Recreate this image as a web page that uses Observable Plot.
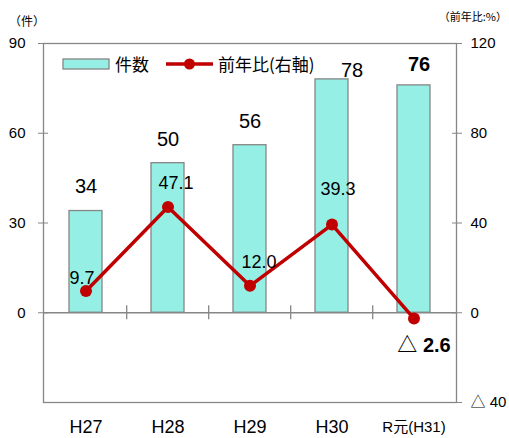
<!DOCTYPE html>
<html><head><meta charset="utf-8">
<script src="https://cdn.jsdelivr.net/npm/d3@7"></script>
<script src="https://cdn.jsdelivr.net/npm/@observablehq/plot@0.6"></script>
<style>body{margin:0;background:#fff} #chart{position:relative;width:509px;height:438px}</style>
</head><body><div id="chart"></div>
<script>
const categories = ["H27","H28","H29","H30","R元(H31)"];
const counts = [34,50,56,78,76];
const ratios = [9.7,47.1,12.0,39.3,-2.6];
const ratioLabels = ["9.7","47.1","12.0","39.3","△ 2.6"];
const leftTicks = [0,30,60,90];
const rightTicks = [-40,0,40,80,120];
const rightTickLabels = ["△ 40","0","40","80","120"];
const legendLabels = ["件数","前年比(右軸)"];
const unitLabels = ["（件）","（前年比:%）"];

const W=509,H=438, mL=43,mR=53,mT=43,mB=36;
const k = 90/120; // right-axis units -> left-axis units
const data = categories.map((c,i)=>({cat:c,count:counts[i],ratio:ratios[i],rLabel:ratioLabels[i],i}));
const barLabelOff = [[0,-24],[0,-24],[0,-24],[20,-9],[5,-21]];
const lineLabelOff = [[-4,-13],[8,-24],[9,-24],[6,-35],[10,27]];
const step = (W-mL-mR)/categories.length;
const FONT = "'Liberation Sans', Arial, 'Noto Sans CJK JP', sans-serif";
const CJK = "'Noto Sans CJK JP', sans-serif";
const GRAY = "#868686";
const BAR = "#96EFE4";
const RED = "#C00000";
const rightFmt = new Map(rightTicks.map((v,i)=>[v*k, rightTickLabels[i]]));

const marks = [
  Plot.barY(data, {x:"cat", y:"count", fill: BAR, stroke: GRAY, strokeWidth: 1.3}),
  Plot.frame({stroke: GRAY, strokeWidth: 1.3}),
  Plot.ruleY([0], {stroke: GRAY, strokeWidth: 1.3}),
  Plot.ruleX(categories.slice(1), {x: d=>d, y1: -2.3, y2: 2.3, dx: -step/2, stroke: GRAY, strokeWidth: 1.3}),
  Plot.axisY({anchor:"left", ticks: leftTicks, tickSize:10, dx:5, tickPadding:13, fontSize:15, stroke: GRAY, fill:"#000", label:null}),
  Plot.axisY({anchor:"right", ticks: rightTicks.map(v=>v*k), tickFormat: v=>rightFmt.get(v), tickSize:10, dx:-5, tickPadding:9, fontSize:15, stroke: GRAY, fill:"#000", label:null}),
  Plot.text(categories, {x: d=>d, frameAnchor:"bottom", dy: 25, lineAnchor:"middle",
    fontSize: d => d.startsWith("R") ? 15 : 18, fontFamily: d => d.startsWith("R") ? CJK : FONT, fill:"#000"}),
  ...data.map(d => Plot.text([d], {x:"cat", y:"count", text: d=>String(d.count),
    dx: barLabelOff[d.i][0], dy: barLabelOff[d.i][1], lineAnchor:"middle",
    fontSize: 20, fontWeight: d.i===4 ? "bold" : "normal", fill:"#000"})),
  Plot.line(data, {x:"cat", y: d=>d.ratio*k, stroke: RED, strokeWidth: 3.5}),
  Plot.dot(data, {x:"cat", y: d=>d.ratio*k, r: 6, fill: RED}),
  ...data.map(d => Plot.text([d], {x:"cat", y: d=>d.ratio*k, text:"rLabel",
    dx: lineLabelOff[d.i][0], dy: lineLabelOff[d.i][1], lineAnchor:"middle",
    fontSize: d.i===4 ? 20 : 18, fontWeight: d.i===4 ? "bold" : "normal", fill:"#000"}))
];

const plot = Plot.plot({
  width: W, height: H, marginLeft: mL, marginRight: mR, marginTop: mT, marginBottom: mB,
  style: {fontFamily: FONT, background: "#fff", overflow: "visible"},
  x: {domain: categories, paddingInner: 0.6, paddingOuter: 0.3, axis: null},
  y: {domain: [-30, 90], axis: null},
  marks
});
document.getElementById("chart").appendChild(plot);

// legend and unit labels
const svg = d3.select(plot);
const lg = svg.append("g").attr("text-anchor","start");
lg.append("rect").attr("x",63).attr("y",59).attr("width",46).attr("height",10)
  .attr("fill",BAR).attr("stroke",GRAY).attr("stroke-width",1.3);
lg.append("text").attr("x",115).attr("y",66).attr("dominant-baseline","middle").attr("text-anchor","start")
  .attr("font-family",CJK).attr("font-size",17).attr("fill","#000").text(legendLabels[0]);
lg.append("line").attr("x1",166).attr("x2",213).attr("y1",64).attr("y2",64)
  .attr("stroke",RED).attr("stroke-width",3.5);
lg.append("circle").attr("cx",189.5).attr("cy",64).attr("r",5.5).attr("fill",RED);
lg.append("text").attr("x",218).attr("y",66).attr("dominant-baseline","middle").attr("text-anchor","start")
  .attr("font-family",CJK).attr("font-size",17).attr("fill","#000").text(legendLabels[1]);
svg.append("text").attr("x",9).attr("y",23).attr("dominant-baseline","middle").attr("text-anchor","start")
  .attr("font-family",CJK).attr("font-size",12).attr("fill","#000").text(unitLabels[0]);
svg.append("text").attr("x",507).attr("y",18).attr("dominant-baseline","middle").attr("text-anchor","end")
  .attr("font-family",CJK).attr("font-size",11).attr("fill","#000").text(unitLabels[1]);
</script></body></html>
